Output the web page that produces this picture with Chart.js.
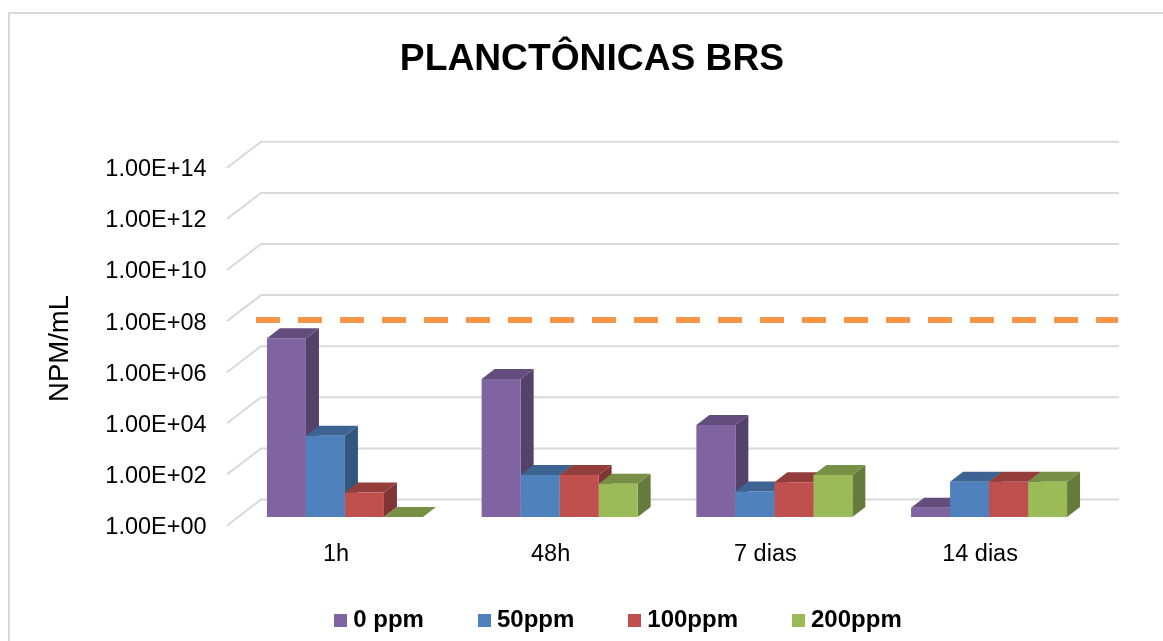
<!DOCTYPE html>
<html>
<head>
<meta charset="utf-8">
<title>PLANCTÔNICAS BRS</title>
<script src="https://cdn.jsdelivr.net/npm/chart.js@4"></script>
<style>
    html, body { margin: 0; padding: 0; background: #fff; overflow: hidden; }
    canvas { display: block; }
</style>
</head>
<body>
<canvas id="brsChart" width="1163" height="641"></canvas>
<script>
const categories = ['1h', '48h', '7 dias', '14 dias'];
const seriesNames = ['0 ppm', '50ppm', '100ppm', '200ppm'];
const seriesColors = ['#8064A2', '#4F81BD', '#C0504D', '#9BBB59'];

// NPM/mL
const ppm0 = [1e7, 2.5e5, 4e3, 2.3];
const ppm50 = [1.5e3, 44, 10, 24];
const ppm100 = [9, 44, 23, 24];
const ppm200 = [1, 20, 44, 24];

const tickValues = [1, 1e2, 1e4, 1e6, 1e8, 1e10, 1e12, 1e14];
const tickLabels = ['1.00E+00', '1.00E+02', '1.00E+04', '1.00E+06', '1.00E+08', '1.00E+10', '1.00E+12', '1.00E+14'];
const limitValue = 5.1e7; // orange dashed line

const FONT = '"Liberation Sans", Arial, sans-serif';
const GRID = '#d9d9d9';

const shade = (hex, k) => {
    const n = parseInt(hex.slice(1), 16);
    const r = Math.round((n >> 16) * k);
    const g = Math.round(((n >> 8) & 255) * k);
    const b = Math.round((n & 255) * k);
    return `rgb(${r},${g},${b})`;
};

// legend swatch, the legend centres it on a 1px wide box
const swatch = (color) => {
    const c = document.createElement('canvas');
    c.width = 13;
    c.height = 13;
    const g = c.getContext('2d');
    g.fillStyle = color;
    g.fillRect(0, 0, 13, 13);
    return c;
};

const face = (ctx, color, pts) => {
    ctx.fillStyle = color;
    ctx.beginPath();
    pts.forEach((p, i) => i ? ctx.lineTo(p[0], p[1]) : ctx.moveTo(p[0], p[1]));
    ctx.closePath();
    ctx.fill();
};

// fake 3D look of the original: frame, walls, gridlines, bar tops and sides
const depthPlugin = {
    id: 'depth',
    afterLayout(chart) {
        // legend sits off-centre in the original and closer to the bottom
        chart.legend.left += 29;
        chart.legend.right += 29;
        chart.legend.top = 548;
    },
    beforeDatasetsDraw(chart) {
        const { ctx, scales: { y } } = chart;
        ctx.save();
        ctx.strokeStyle = GRID;
        ctx.lineWidth = 2;
        ctx.strokeRect(9, 13, 1400, 900);
        y.ticks.forEach((tick) => {
            const py = y.getPixelForValue(tick.value);
            ctx.beginPath();
            ctx.moveTo(227, py + 8.5);
            ctx.lineTo(261, py - 17.5);
            ctx.lineTo(1119, py - 17.5);
            ctx.stroke();
        });
        const dx = 13, dy = 10;
        categories.forEach((c, j) => {
            chart.data.datasets.forEach((ds, i) => {
                const bar = chart.getDatasetMeta(i).data[j];
                const l = bar.x - bar.width / 2;
                const r = bar.x + bar.width / 2;
                const color = seriesColors[i];
                face(ctx, shade(color, 0.66), [[r, bar.y], [r + dx, bar.y - dy], [r + dx, bar.base - dy], [r, bar.base]]);
                face(ctx, shade(color, 0.77), [[l, bar.y], [l + dx, bar.y - dy], [r + dx, bar.y - dy], [r, bar.y]]);
            });
        });
        ctx.restore();
    },
    afterDraw(chart) {
        const { ctx, scales: { y } } = chart;
        ctx.save();
        const ly = y.getPixelForValue(limitValue);
        ctx.strokeStyle = '#F79646';
        ctx.lineWidth = 6;
        ctx.setLineDash([24, 18]);
        ctx.beginPath();
        ctx.moveTo(256, ly);
        ctx.lineTo(1118, ly);
        ctx.stroke();
        ctx.setLineDash([]);
        // axis title sits lower than the scale centre, so not the native one
        ctx.translate(60, 348.5);
        ctx.rotate(-Math.PI / 2);
        ctx.fillStyle = '#000';
        ctx.font = '27.5px ' + FONT;
        ctx.textAlign = 'center';
        ctx.textBaseline = 'middle';
        ctx.fillText('NPM/mL', 0, 0);
        ctx.restore();
    }
};

const seriesValues = [ppm0, ppm50, ppm100, ppm200];

const chart = new Chart(document.getElementById('brsChart').getContext('2d'), {
    type: 'bar',
    data: {
        labels: categories,
        datasets: seriesNames.map((name, i) => ({
            label: name,
            data: seriesValues[i],
            backgroundColor: seriesColors[i],
            categoryPercentage: 0.7266,
            barPercentage: 1
        }))
    },
    options: {
        responsive: false,
        animation: false,
        layout: { padding: { left: 87.6, right: 66.6, bottom: -24 } },
        plugins: {
            title: {
                display: true,
                text: 'PLANCTÔNICAS BRS',
                color: '#000',
                font: { family: FONT, size: 37.2, weight: 'bold', lineHeight: 1.2 },
                padding: { top: 37, bottom: 77.66 }
            },
            legend: {
                position: 'bottom',
                labels: {
                    color: '#000',
                    font: { family: FONT, size: 24, weight: 'bold' },
                    padding: 60,
                    usePointStyle: true,
                    pointStyleWidth: 1,
                    boxHeight: 13,
                    generateLabels(c) {
                        return Chart.defaults.plugins.legend.labels.generateLabels(c).map((item, i) => {
                            item.pointStyle = swatch(seriesColors[i]);
                            return item;
                        });
                    }
                }
            },
            tooltip: { enabled: false }
        },
        scales: {
            x: {
                grid: { display: false },
                border: { display: false },
                afterFit(scale) { scale.height = 54; },
                ticks: {
                    color: '#000',
                    font: { family: FONT, size: 23.5 },
                    padding: 15,
                    labelOffset: -9,
                    maxRotation: 0,
                    autoSkip: false
                }
            },
            y: {
                type: 'logarithmic',
                min: 1,
                max: 1e14,
                grid: { display: false },
                border: { display: false },
                afterFit(scale) { scale.width = 150; },
                afterBuildTicks(scale) { scale.ticks = tickValues.map((v) => ({ value: v })); },
                ticks: {
                    color: '#000',
                    font: { family: FONT, size: 23.5 },
                    padding: 23,
                    labelOffset: 10.5,
                    autoSkip: false,
                    callback(value) { return tickLabels[tickValues.indexOf(value)]; }
                }
            }
        }
    },
    plugins: [depthPlugin]
});
</script>
</body>
</html>
